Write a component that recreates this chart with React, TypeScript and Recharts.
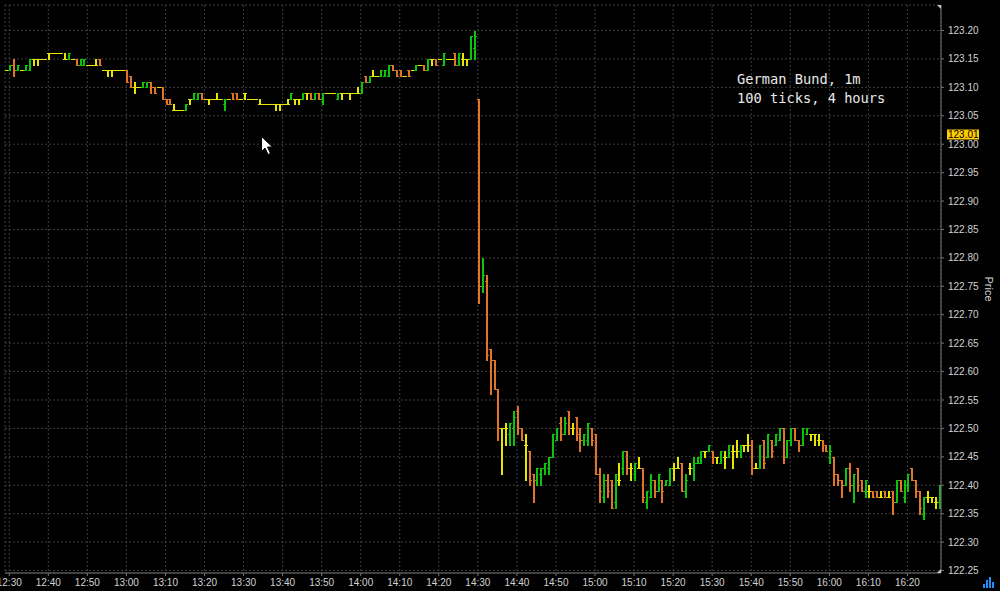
import React from 'react';
import { ComposedChart, Bar, XAxis, YAxis, CartesianGrid, ReferenceLine } from 'recharts';

// ---------------- data ----------------
const SESSION_START = '12:29'; // time of the first 1-minute bar

const OPEN = [
  123.13,123.13,123.14,123.13,123.13,123.13,123.13,123.15,123.15,123.15,
  123.15,123.16,123.16,123.16,123.16,123.15,123.15,123.15,123.15,123.14,
  123.14,123.14,123.14,123.14,123.15,123.13,123.13,123.13,123.13,123.13,
  123.13,123.13,123.12,123.10,123.10,123.10,123.10,123.11,123.10,123.10,
  123.10,123.08,123.08,123.06,123.06,123.06,123.06,123.08,123.08,123.08,
  123.09,123.08,123.08,123.08,123.08,123.08,123.07,123.08,123.09,123.09,
  123.08,123.09,123.08,123.08,123.08,123.07,123.07,123.07,123.07,123.07,
  123.07,123.07,123.07,123.08,123.08,123.08,123.08,123.09,123.09,123.08,
  123.09,123.08,123.09,123.09,123.09,123.08,123.09,123.09,123.09,123.09,
  123.09,123.09,123.12,123.11,123.12,123.12,123.12,123.12,123.12,123.14,
  123.13,123.13,123.12,123.13,123.13,123.13,123.14,123.14,123.13,123.15,
  123.15,123.15,123.14,123.15,123.15,123.16,123.14,123.15,123.15,123.15,
  123.17,123.08,122.75,122.76,122.64,122.62,122.57,122.50,122.50,122.49,
  122.50,122.53,122.50,122.47,122.46,122.42,122.41,122.42,122.43,122.43,
  122.45,122.48,122.51,122.49,122.53,122.50,122.52,122.50,122.48,122.48,
  122.50,122.49,122.42,122.38,122.41,122.41,122.37,122.41,122.43,122.46,
  122.43,122.42,122.43,122.43,122.37,122.38,122.41,122.39,122.41,122.40,
  122.40,122.43,122.43,122.44,122.39,122.43,122.43,122.44,122.44,122.46,
  122.46,122.46,122.45,122.44,122.45,122.45,122.46,122.46,122.46,122.47,
  122.47,122.47,122.43,122.43,122.48,122.45,122.48,122.47,122.48,122.50,
  122.45,122.48,122.50,122.48,122.47,122.49,122.49,122.49,122.48,122.48,
  122.47,122.45,122.45,122.42,122.41,122.40,122.43,122.40,122.43,122.41,
  122.39,122.39,122.39,122.39,122.38,122.39,122.38,122.39,122.37,122.41,
  122.38,122.40,122.43,122.41,122.39,122.35,122.38,122.38,122.37,122.37,
];

const HIGH = [
  123.13,123.14,123.15,123.14,123.13,123.14,123.15,123.15,123.15,123.15,
  123.15,123.16,123.16,123.16,123.16,123.16,123.16,123.15,123.15,123.15,
  123.15,123.14,123.14,123.15,123.15,123.13,123.13,123.13,123.13,123.13,
  123.13,123.13,123.12,123.11,123.10,123.11,123.11,123.11,123.10,123.10,
  123.10,123.08,123.08,123.07,123.06,123.06,123.07,123.08,123.09,123.09,
  123.09,123.08,123.08,123.08,123.09,123.08,123.08,123.08,123.09,123.09,
  123.08,123.09,123.08,123.08,123.08,123.08,123.07,123.07,123.07,123.07,
  123.07,123.07,123.08,123.09,123.08,123.08,123.09,123.09,123.09,123.09,
  123.09,123.09,123.09,123.09,123.09,123.09,123.09,123.09,123.09,123.09,
  123.10,123.11,123.12,123.12,123.13,123.12,123.13,123.13,123.14,123.14,
  123.13,123.13,123.12,123.13,123.13,123.14,123.14,123.14,123.15,123.15,
  123.15,123.15,123.16,123.15,123.15,123.16,123.16,123.16,123.15,123.19,
  123.20,123.08,122.80,122.77,122.64,122.62,122.57,122.50,122.51,122.51,
  122.53,122.54,122.50,122.49,122.46,122.42,122.43,122.43,122.44,122.45,
  122.49,122.50,122.52,122.52,122.53,122.51,122.52,122.50,122.49,122.51,
  122.50,122.49,122.43,122.42,122.42,122.41,122.42,122.44,122.46,122.46,
  122.44,122.44,122.45,122.43,122.39,122.42,122.41,122.42,122.41,122.41,
  122.43,122.44,122.45,122.44,122.42,122.44,122.45,122.45,122.46,122.46,
  122.47,122.46,122.45,122.46,122.46,122.47,122.47,122.48,122.47,122.47,
  122.49,122.48,122.44,122.47,122.48,122.49,122.48,122.49,122.50,122.50,
  122.48,122.50,122.50,122.48,122.50,122.50,122.49,122.49,122.49,122.48,
  122.47,122.47,122.45,122.42,122.41,122.43,122.44,122.42,122.43,122.41,
  122.41,122.40,122.39,122.39,122.39,122.39,122.39,122.39,122.41,122.41,
  122.41,122.42,122.43,122.41,122.39,122.38,122.39,122.38,122.38,122.40,
];

const LOW = [
  123.13,123.13,123.12,123.13,123.13,123.13,123.13,123.14,123.14,123.15,
  123.15,123.15,123.16,123.16,123.16,123.15,123.15,123.15,123.14,123.14,
  123.14,123.14,123.14,123.14,123.14,123.13,123.12,123.12,123.13,123.13,
  123.13,123.11,123.10,123.09,123.10,123.10,123.10,123.09,123.09,123.10,
  123.08,123.07,123.07,123.06,123.06,123.06,123.06,123.07,123.08,123.08,
  123.08,123.08,123.07,123.08,123.08,123.08,123.06,123.08,123.08,123.08,
  123.08,123.08,123.08,123.08,123.08,123.07,123.07,123.07,123.07,123.06,
  123.06,123.07,123.07,123.08,123.07,123.07,123.08,123.08,123.08,123.08,
  123.08,123.07,123.09,123.09,123.09,123.08,123.08,123.09,123.08,123.09,
  123.09,123.09,123.11,123.11,123.12,123.12,123.12,123.12,123.12,123.13,
  123.12,123.12,123.12,123.12,123.13,123.13,123.14,123.13,123.13,123.14,
  123.14,123.15,123.14,123.15,123.15,123.14,123.14,123.14,123.14,123.15,
  123.15,122.72,122.74,122.62,122.56,122.57,122.48,122.42,122.47,122.47,
  122.47,122.49,122.48,122.41,122.40,122.37,122.40,122.40,122.42,122.42,
  122.45,122.48,122.48,122.49,122.49,122.49,122.48,122.46,122.47,122.47,
  122.47,122.42,122.37,122.37,122.38,122.36,122.36,122.40,122.42,122.42,
  122.41,122.41,122.43,122.37,122.36,122.38,122.38,122.39,122.37,122.40,
  122.40,122.41,122.43,122.39,122.38,122.42,122.41,122.44,122.44,122.45,
  122.46,122.44,122.44,122.44,122.43,122.45,122.43,122.45,122.45,122.46,
  122.46,122.42,122.43,122.43,122.43,122.45,122.45,122.47,122.48,122.44,
  122.45,122.47,122.48,122.46,122.47,122.49,122.48,122.47,122.47,122.46,
  122.46,122.44,122.40,122.40,122.38,122.40,122.39,122.37,122.39,122.39,
  122.38,122.38,122.38,122.38,122.38,122.38,122.38,122.35,122.37,122.39,
  122.37,122.39,122.41,122.38,122.35,122.34,122.37,122.37,122.36,122.36,
];

const CLOSE = [
  123.13,123.14,123.13,123.14,123.13,123.14,123.15,123.15,123.15,123.15,
  123.15,123.16,123.16,123.16,123.16,123.15,123.16,123.15,123.14,123.15,
  123.15,123.14,123.14,123.14,123.14,123.13,123.13,123.13,123.13,123.13,
  123.13,123.11,123.10,123.10,123.10,123.11,123.11,123.10,123.09,123.10,
  123.08,123.07,123.07,123.06,123.06,123.06,123.07,123.08,123.09,123.09,
  123.08,123.08,123.08,123.08,123.08,123.08,123.08,123.08,123.08,123.08,
  123.08,123.09,123.08,123.08,123.08,123.07,123.07,123.07,123.07,123.07,
  123.07,123.07,123.07,123.09,123.08,123.08,123.09,123.09,123.08,123.09,
  123.08,123.09,123.09,123.09,123.09,123.09,123.09,123.09,123.09,123.09,
  123.09,123.11,123.11,123.12,123.12,123.12,123.13,123.13,123.14,123.13,
  123.12,123.12,123.12,123.12,123.13,123.14,123.14,123.13,123.15,123.15,
  123.14,123.15,123.16,123.15,123.15,123.14,123.16,123.15,123.15,123.19,
  123.19,122.75,122.77,122.63,122.62,122.57,122.50,122.50,122.50,122.51,
  122.52,122.50,122.48,122.47,122.41,122.41,122.43,122.43,122.44,122.45,
  122.49,122.50,122.49,122.51,122.50,122.50,122.49,122.48,122.49,122.51,
  122.48,122.42,122.39,122.41,122.39,122.36,122.42,122.41,122.46,122.43,
  122.43,122.44,122.43,122.38,122.39,122.41,122.39,122.42,122.39,122.41,
  122.43,122.43,122.43,122.39,122.41,122.43,122.44,122.45,122.46,122.46,
  122.47,122.45,122.45,122.46,122.45,122.47,122.46,122.46,122.47,122.47,
  122.47,122.43,122.43,122.47,122.44,122.49,122.46,122.49,122.50,122.45,
  122.48,122.50,122.48,122.47,122.50,122.50,122.49,122.49,122.48,122.47,
  122.46,122.46,122.42,122.41,122.40,122.43,122.40,122.42,122.40,122.39,
  122.41,122.39,122.38,122.38,122.38,122.38,122.38,122.37,122.41,122.39,
  122.40,122.42,122.41,122.39,122.36,122.38,122.38,122.38,122.37,122.40,
];

const TIME_TICK_LABELS = [
  '12:30','12:40','12:50','13:00','13:10','13:20','13:30','13:40','13:50',
  '14:00','14:10','14:20','14:30','14:40','14:50','15:00','15:10','15:20',
  '15:30','15:40','15:50','16:00','16:10','16:20',
];

const PRICE_TICKS = [
  122.25,122.30,122.35,122.40,122.45,122.50,122.55,122.60,122.65,122.70,
  122.75,122.80,122.85,122.90,122.95,123.00,123.05,123.10,123.15,123.20,
];

const LAST_PRICE = 123.01;
const NOTE_LINES = ['German Bund, 1m', '100 ticks, 4 hours'];
const AXIS_TITLE = 'Price';

// ---------------- layout / style ----------------
const Y_DOMAIN: [number, number] = [122.2456, 123.2449];
const X_DOMAIN: [number, number] = [-0.09, 239.6];
const BAR_SHIFT = 1.5; // bars sit a little right of their minute gridline

const GREEN = '#0cc40c';
const ORANGE = '#e07428';
const YELLOW = '#e6e600';
const GRID = '#3e3e3e';
const AXIS = '#747474';
const LABEL = '#d2d2d2';
const AXIS_FONT = '"Liberation Sans", Arial, sans-serif';

const toMinutes = (s: string) => {
  const [h, m] = s.split(':').map(Number);
  return h * 60 + m;
};
const BASE = toMinutes(SESSION_START);
const TIME_TICKS = TIME_TICK_LABELS.map((s) => toMinutes(s) - BASE);
const formatTime = (t: number) => {
  const idx = TIME_TICKS.indexOf(t);
  if (idx >= 0) return TIME_TICK_LABELS[idx];
  const v = BASE + Math.round(t);
  return `${Math.floor(v / 60)}:${String(v % 60).padStart(2, '0')}`;
};

const data = OPEN.map((o, i) => ({
  t: i,
  o,
  h: HIGH[i],
  l: LOW[i],
  c: CLOSE[i],
  span: [Y_DOMAIN[0], HIGH[i]],
}));

const OhlcShape = (props: any) => {
  const { x, y, width, height, payload } = props;
  if (x == null || y == null || !payload) return null;
  const { o, h, l, c } = payload;
  const top = Math.min(y, y + height);
  const H = Math.abs(height);
  const span = h - Y_DOMAIN[0];
  const py = (v: number) => top + ((h - v) / span) * H;
  const cx = Math.round(x + width / 2 + BAR_SHIFT - 1);
  const color = c > o ? GREEN : c < o ? ORANGE : YELLOW;
  const yh = Math.round(py(h));
  const yl = Math.round(py(l));
  const yo = Math.round(py(o));
  const yc = Math.round(py(c));
  return (
    <g fill={color} shapeRendering="crispEdges">
      <rect x={cx} y={yh} width={2} height={Math.max(1, yl - yh + 1)} />
      <rect x={cx - 1} y={yo} width={1} height={1} />
      <rect x={cx + 2} y={yc} width={1} height={1} />
    </g>
  );
};

const PriceTag = (props: any) => {
  const { viewBox, price } = props;
  if (!viewBox) return null;
  const x = viewBox.x + viewBox.width + 6;
  const y = viewBox.y;
  return (
    <g>
      <rect x={x} y={y - 9} width={32} height={10} fill="#ffcc00" />
      <text x={x + 1} y={y - 0.2} fontSize={10} fontFamily={AXIS_FONT} fill="#000">
        {price.toFixed(2)}
      </text>
    </g>
  );
};

const AxisTitle = (props: any) => {
  const { viewBox } = props;
  if (!viewBox) return null;
  const x = viewBox.x + 44;
  const y = viewBox.y + viewBox.height / 2;
  return (
    <text
      x={x}
      y={y}
      transform={`rotate(90, ${x}, ${y})`}
      textAnchor="middle"
      fontSize={11}
      fontFamily={AXIS_FONT}
      fill={LABEL}
    >
      {AXIS_TITLE}
    </text>
  );
};

export default function App() {
  return (
    <div
      style={{
        position: 'absolute',
        left: 0,
        top: 0,
        width: 1000,
        height: 591,
        background: '#000',
        overflow: 'hidden',
      }}
    >
      <ComposedChart
        width={1000}
        height={591}
        data={data}
        margin={{ top: 5, right: 0, bottom: 0, left: 5 }}
      >
        <CartesianGrid stroke={GRID} strokeDasharray="2 2" />
        <XAxis
          type="number"
          dataKey="t"
          domain={X_DOMAIN}
          allowDataOverflow
          ticks={TIME_TICKS}
          interval={0}
          tickFormatter={formatTime}
          height={18}
          tickSize={3}
          tickMargin={3}
          tick={{ fill: LABEL, fontSize: 10, fontFamily: AXIS_FONT }}
          axisLine={{ stroke: AXIS }}
          tickLine={{ stroke: AXIS }}
        />
        <YAxis
          orientation="right"
          type="number"
          domain={Y_DOMAIN}
          allowDataOverflow
          ticks={PRICE_TICKS}
          interval={0}
          width={59}
          tickFormatter={(v: number) => v.toFixed(2)}
          tickSize={3}
          tickMargin={4}
          tick={{ fill: LABEL, fontSize: 10, fontFamily: AXIS_FONT }}
          axisLine={{ stroke: AXIS }}
          tickLine={{ stroke: AXIS }}
          label={<AxisTitle />}
        />
        <YAxis
          yAxisId="frame"
          orientation="left"
          type="number"
          domain={Y_DOMAIN}
          allowDataOverflow
          width={0}
          tick={false}
          tickLine={false}
          axisLine={{ stroke: AXIS }}
        />
        <Bar dataKey="span" shape={OhlcShape} isAnimationActive={false} barSize={3} />
        <ReferenceLine
          y={LAST_PRICE}
          stroke="none"
          ifOverflow="visible"
          label={<PriceTag price={LAST_PRICE} />}
        />
      </ComposedChart>

      <div
        style={{
          position: 'absolute',
          left: 737,
          top: 70,
          fontFamily: '"DejaVu Sans Mono", monospace',
          fontSize: 13.7,
          lineHeight: '19px',
          color: '#e8e8e8',
          whiteSpace: 'pre',
        }}
      >
        {NOTE_LINES.join('\n')}
      </div>

      <svg
        width={1000}
        height={591}
        style={{ position: 'absolute', left: 0, top: 0, pointerEvents: 'none' }}
      >
        {/* mouse pointer */}
        <polygon
          points="261.5,136.5 261.5,151.5 265,148 268,154.5 270.5,153.5 267.5,147 272.5,147"
          fill="#fff"
          stroke="#000"
          strokeWidth={1}
        />
        {/* corner handles */}
        <polygon points="937,5 941,5 941,9" fill="#c8c8c8" />
        <polygon points="941,569 941,573 937,573" fill="#c8c8c8" />
        {/* toolbar icon */}
        <g fill="#1e8fff">
          <rect x={983} y={584} width={2} height={4} />
          <rect x={986} y={580} width={2} height={8} />
          <rect x={989} y={577} width={2} height={11} />
          <rect x={992} y={582} width={2} height={6} />
        </g>
      </svg>
    </div>
  );
}
